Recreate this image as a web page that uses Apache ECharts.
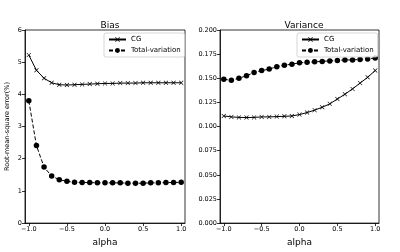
<!DOCTYPE html>
<html><head><meta charset="utf-8">
<script src="https://cdn.jsdelivr.net/npm/echarts@6/dist/echarts.min.js"></script>
<style>html,body{margin:0;padding:0;background:#fff}#c{width:400px;height:252px}</style>
</head><body><div id="c"></div>
<script>
const alpha = [-1.0,-0.9,-0.8,-0.7,-0.6,-0.5,-0.4,-0.3,-0.2,-0.1,0.0,0.1,0.2,0.3,0.4,0.5,0.6,0.7,0.8,0.9,1.0];
const biasCG = [5.22,4.75,4.50,4.36,4.30,4.29,4.30,4.31,4.32,4.33,4.34,4.34,4.35,4.35,4.35,4.36,4.36,4.36,4.36,4.36,4.36];
const biasTV = [3.80,2.41,1.74,1.46,1.35,1.30,1.27,1.26,1.26,1.25,1.25,1.25,1.25,1.24,1.24,1.24,1.25,1.25,1.26,1.26,1.27];
const varCG = [0.111,0.110,0.1095,0.1093,0.1095,0.110,0.110,0.1103,0.1106,0.111,0.1124,0.1145,0.117,0.120,0.1235,0.1285,0.1335,0.139,0.145,0.151,0.158];
const varTV = [0.149,0.148,0.150,0.1526,0.156,0.158,0.1595,0.162,0.1636,0.1646,0.166,0.1665,0.167,0.1675,0.168,0.1685,0.169,0.169,0.1695,0.170,0.171];
const xTicks = [-1.0,-0.5,0.0,0.5,1.0];
const biasTicks = [0,1,2,3,4,5,6];
const varTicks = [0,0.025,0.05,0.075,0.1,0.125,0.15,0.175,0.2];
const titles = ['Bias','Variance'];
const xName = 'alpha';
const yName = 'Root-mean-square error(%)';
const names = ['CG','Total-variation'];

const FONT = 'DejaVu Sans';
const fmtX = v => (v < 0 ? '\u2212' : '') + Math.abs(v).toFixed(1);
const xSym = 'path://M0,1L1,0L5,4L9,0L10,1L6,5L10,9L9,10L5,6L1,10L0,9L4,5Z';
const pairs = (xs, ys) => xs.map((x, i) => [x, ys[i]]);

function xAxis(gi){
  return {type:'value', gridIndex:gi, min:-1.05, max:1.05,
    name:xName, nameLocation:'middle', nameGap:13,
    nameTextStyle:{fontFamily:FONT,fontSize:9,color:'#000'},
    axisLine:{show:true,onZero:false,lineStyle:{color:'#000',width:0.8}},
    axisTick:{show:true,length:3,customValues:xTicks,lineStyle:{color:'#000',width:0.8}},
    axisLabel:{customValues:xTicks,formatter:fmtX,fontFamily:FONT,fontSize:6.5,color:'#000',margin:3},
    splitLine:{show:false}};
}
function yAxis(gi, ticks, fmt, name){
  return {type:'value', gridIndex:gi, min:ticks[0], max:ticks[ticks.length-1],
    name:name||'', nameLocation:'middle', nameGap:14,
    nameTextStyle:{fontFamily:FONT,fontSize:6.5,color:'#000'},
    axisLine:{show:true,onZero:false,lineStyle:{color:'#000',width:0.8}},
    axisTick:{show:true,length:3,customValues:ticks,lineStyle:{color:'#000',width:0.8}},
    axisLabel:{customValues:ticks,formatter:fmt,fontFamily:FONT,fontSize:6.5,color:'#000',margin:3},
    splitLine:{show:false}};
}
function cg(gi, ys){
  return {name:names[0], type:'line', xAxisIndex:gi, yAxisIndex:gi, data:pairs(alpha, ys),
    symbol:xSym, symbolSize:4.5, lineStyle:{color:'#000',width:1},
    itemStyle:{color:'#000'}, animation:false, z:3};
}
function tv(gi, ys){
  return {name:names[1], type:'line', xAxisIndex:gi, yAxisIndex:gi, data:pairs(alpha, ys),
    symbol:'circle', symbolSize:5.5, lineStyle:{color:'#000',width:1,type:[4,2]},
    itemStyle:{color:'#000'}, animation:false, z:3};
}
function legend(left){
  return {left:left, top:33, orient:'vertical', data:names, itemWidth:17, itemHeight:6, itemGap:4,
    textStyle:{fontFamily:FONT,fontSize:7,color:'#000'}, borderColor:'#ccc', borderWidth:0.8,
    borderRadius:2, padding:[3,4,3,4], backgroundColor:'rgba(255,255,255,0.8)', selectedMode:false};
}
const chart = echarts.init(document.getElementById('c'), null, {renderer:'canvas'});
chart.setOption({
  animation:false,
  title:[
    {text:titles[0], left:105, top:16, textAlign:'center', textStyle:{fontFamily:FONT,fontSize:9,fontWeight:'normal',color:'#000'}},
    {text:titles[1], left:299, top:16, textAlign:'center', textStyle:{fontFamily:FONT,fontSize:9,fontWeight:'normal',color:'#000'}}
  ],
  legend:[legend(104), legend(297)],
  grid:[
    {left:25, top:30, width:160, height:194, show:true, borderColor:'#000', borderWidth:0.8},
    {left:220, top:30, width:159, height:194, show:true, borderColor:'#000', borderWidth:0.8}
  ],
  xAxis:[xAxis(0), xAxis(1)],
  yAxis:[yAxis(0, biasTicks, v => String(v), yName), yAxis(1, varTicks, v => v.toFixed(3))],
  series:[cg(0, biasCG), tv(0, biasTV), cg(1, varCG), tv(1, varTV)]
});
</script></body></html>
